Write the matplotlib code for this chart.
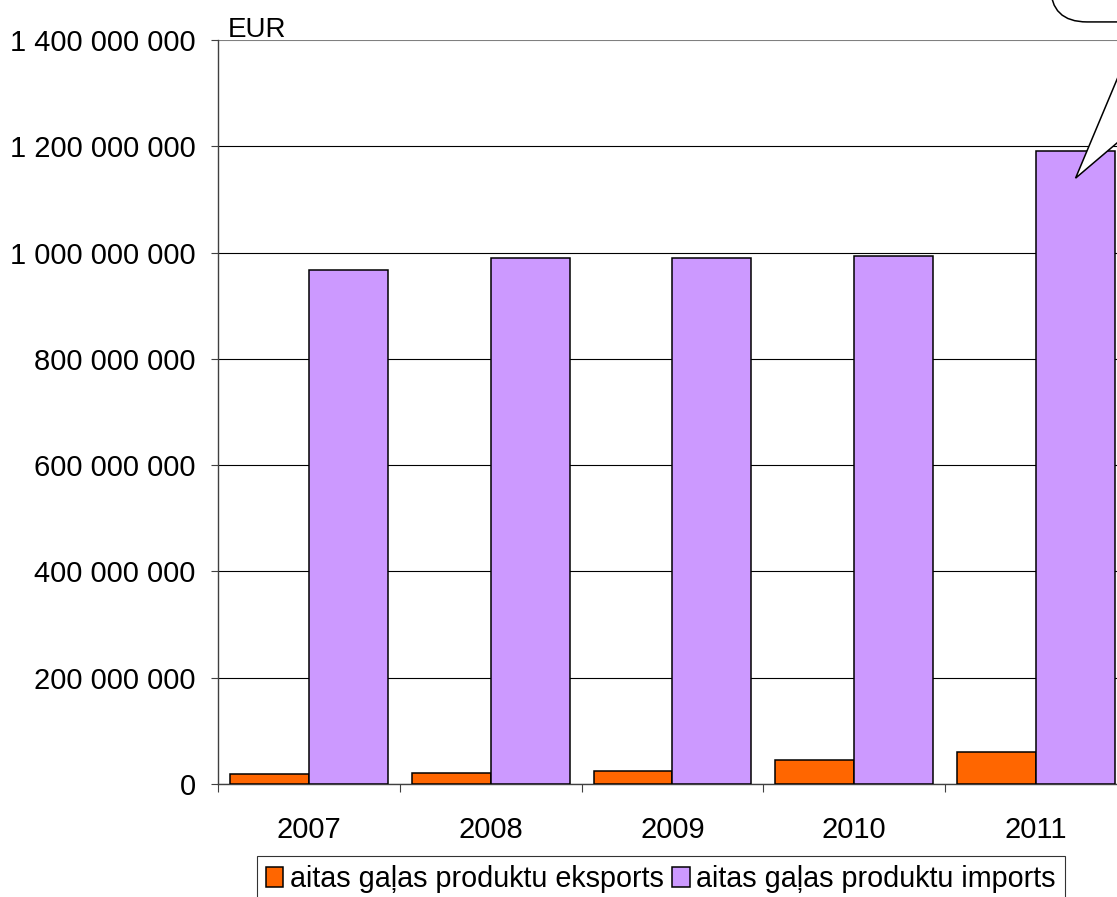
import matplotlib.pyplot as plt
from matplotlib.patches import FancyBboxPatch, Polygon
from matplotlib.ticker import FuncFormatter, FixedLocator

plt.rcParams["font.family"] = ["Liberation Sans", "DejaVu Sans"]

years = ["2007", "2008", "2009", "2010", "2011"]
exports = [18_300_000, 21_000_000, 24_000_000, 45_000_000, 60_000_000]
imports = [967_000_000, 990_000_000, 990_000_000, 993_000_000, 1_191_000_000]
export_label = "aitas gaļas produktu eksports"
import_label = "aitas gaļas produktu imports"

fig = plt.figure(figsize=(11.17, 8.97), dpi=100)
# axes run a bit past the right edge, like the cropped original
ax = fig.add_axes([218 / 1117, 1 - 784 / 897, (1127 - 218) / 1117, (784 - 40) / 897])

x = list(range(len(years)))
w = 0.434
ax.bar([i - w / 2 for i in x], exports, width=w, color="#FF6600",
       edgecolor="black", linewidth=1.1, label=export_label, zorder=3)
ax.bar([i + w / 2 for i in x], imports, width=w, color="#CC99FF",
       edgecolor="black", linewidth=1.1, label=import_label, zorder=3)

ax.set_xlim(-0.5, len(years) - 0.5)
ax.set_ylim(0, 1_400_000_000)
ax.set_yticks(range(0, 1_400_000_001, 200_000_000))
ax.yaxis.set_major_formatter(FuncFormatter(lambda v, _: f"{int(v):,}".replace(",", " ")))
ax.set_xticks(x)
ax.set_xticklabels(years)
ax.xaxis.set_minor_locator(FixedLocator([i - 0.5 for i in range(len(years) + 1)]))

ax.tick_params(axis="y", length=5, width=0.8, color="#404040", pad=11, labelsize=21)
ax.tick_params(axis="x", which="major", length=0, pad=23, labelsize=21)
ax.tick_params(axis="x", which="minor", length=6, width=0.8, color="#404040")

ax.grid(axis="y", color="black", linewidth=0.8, zorder=0)
ax.yaxis.get_gridlines()[-1].set_color("#808080")
ax.set_axisbelow(True)
for s in ["top", "right"]:
    ax.spines[s].set_visible(False)
for s in ["left", "bottom"]:
    ax.spines[s].set_color("#404040")
    ax.spines[s].set_linewidth(1.0)

ax.text(228 / 1117, 1 - 37 / 897, "EUR", transform=fig.transFigure, fontsize=20,
        ha="left", va="baseline")

# callout box pointing at the 2011 imports bar (cut off at the edge)
tip_x = x[-1] + w / 2
callout_box = FancyBboxPatch((4.08, 1.434e9), 1.5, 0.2e9,
                             boxstyle="round,pad=0,rounding_size=0.2",
                             mutation_aspect=0.2e9 / 0.6,
                             facecolor="white", edgecolor="black", linewidth=1.1,
                             clip_on=False, zorder=5)
ax.add_patch(callout_box)
wedge = Polygon([(tip_x, 1.14e9), (4.585, 1.44e9), (5.25, 1.44e9)], closed=True,
                facecolor="white", edgecolor="black", linewidth=1.1,
                clip_on=False, zorder=6)
ax.add_patch(wedge)

leg = fig.legend(loc="upper left", bbox_to_anchor=(257 / 1117, 1 - 856 / 897),
                 ncol=2, fontsize=20.7, frameon=True, fancybox=False,
                 handlelength=0.62, handleheight=0.69, handletextpad=0.22,
                 columnspacing=0.3, borderpad=0.3, borderaxespad=0)
leg.get_frame().set_edgecolor("black")
leg.get_frame().set_linewidth(0.8)

fig.savefig("out.png", dpi=100)
